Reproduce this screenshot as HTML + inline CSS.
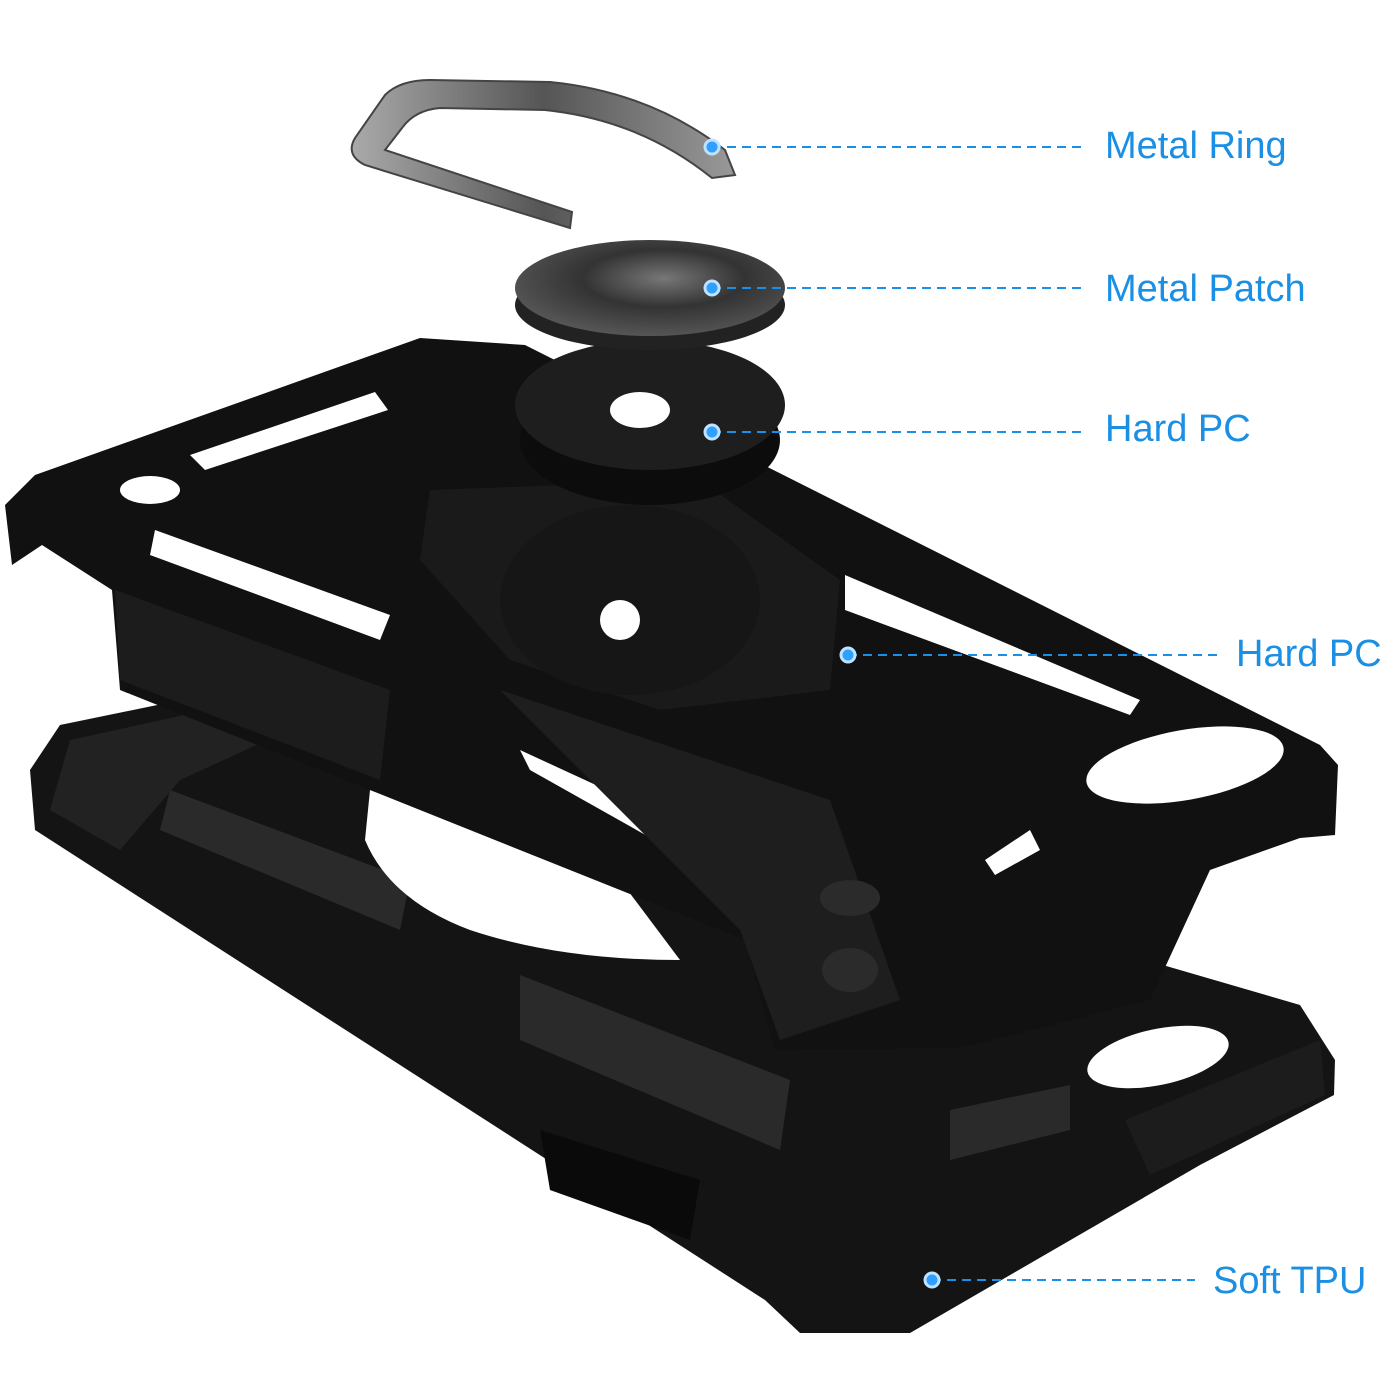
<!DOCTYPE html>
<html><head><meta charset="utf-8"><style>
html,body{margin:0;padding:0;background:#fff;}
svg{display:block;}
text{font-family:"Liberation Sans",sans-serif;font-size:38px;fill:#1a8fe3;}
</style></head><body>
<svg width="1400" height="1400" viewBox="0 0 1400 1400" xmlns="http://www.w3.org/2000/svg">
<defs>
<radialGradient id="pg" cx="0.55" cy="0.4" r="0.6"><stop offset="0" stop-color="#777"/><stop offset="0.5" stop-color="#333"/><stop offset="1" stop-color="#555"/></radialGradient>
<linearGradient id="rg" x1="0" x2="1"><stop offset="0" stop-color="#aaa"/><stop offset="0.5" stop-color="#555"/><stop offset="1" stop-color="#999"/></linearGradient>
</defs>
<!-- Soft TPU -->
<polygon points="60,725 230,690 700,830 1300,1005 1335,1060 1334,1095 1200,1165 910,1333 800,1333 765,1300 35,830 30,770" fill="#141414"/>
<polygon points="70,740 230,705 300,725 180,780 120,850 50,810" fill="#222"/>
<ellipse cx="1158" cy="1057" rx="72" ry="28" transform="rotate(-12 1158 1057)" fill="#fff"/>
<polygon points="540,1130 700,1180 690,1240 550,1190" fill="#0a0a0a"/>
<polygon points="170,790 410,880 400,930 160,830" fill="#2a2a2a"/>
<polygon points="520,975 790,1080 780,1150 520,1040" fill="#2a2a2a"/>
<polygon points="950,1110 1070,1085 1070,1130 950,1160" fill="#2a2a2a"/>
<polygon points="1125,1120 1320,1040 1325,1095 1150,1175" fill="#1c1c1c"/>
<!-- white region under frame -->
<path d="M370,790 L620,880 L680,960 Q560,960 470,930 Q390,900 365,840 Z" fill="#fff"/>
<!-- Hard PC frame -->
<polygon points="5,505 35,475 420,338 525,345 1320,745 1338,765 1335,835 1300,838 1210,870 1150,1000 960,1048 775,1050 745,940 120,690 112,590 42,545 12,565" fill="#111"/>
<polygon points="190,455 375,392 388,410 205,470" fill="#fff"/>
<polygon points="155,530 390,615 380,640 150,555" fill="#fff"/>
<polygon points="845,575 1140,700 1130,715 845,610" fill="#fff"/>
<polygon points="520,750 780,870 770,905 530,770" fill="#fff"/>
<ellipse cx="1185" cy="765" rx="100" ry="35" transform="rotate(-10 1185 765)" fill="#fff"/>
<ellipse cx="150" cy="490" rx="30" ry="14" fill="#fff"/>
<polygon points="985,860 1030,830 1040,850 995,875" fill="#fff"/>
<polygon points="115,590 390,690 380,780 120,680" fill="#1c1c1c"/>
<polygon points="500,690 830,800 900,1000 780,1040 740,930" fill="#1e1e1e"/>
<ellipse cx="850" cy="898" rx="30" ry="18" fill="#2b2b2b"/>
<ellipse cx="850" cy="970" rx="28" ry="22" fill="#2b2b2b"/>
<!-- center oval -->
<polygon points="430,490 700,480 840,580 830,690 660,710 510,660 420,560" fill="#1a1a1a"/>
<ellipse cx="630" cy="600" rx="130" ry="95" fill="#161616"/>
<circle cx="620" cy="620" r="20" fill="#fff"/>
<!-- Hard PC disc -->
<ellipse cx="650" cy="440" rx="130" ry="65" fill="#0c0c0c"/>
<ellipse cx="650" cy="405" rx="135" ry="65" fill="#1e1e1e"/>
<ellipse cx="640" cy="410" rx="30" ry="18" fill="#fff"/>
<!-- Metal patch -->
<ellipse cx="650" cy="305" rx="135" ry="45" fill="#222"/>
<ellipse cx="650" cy="288" rx="135" ry="48" fill="url(#pg)"/>
<!-- Metal ring -->
<path d="M570,228 L365,165 Q345,155 355,138 L385,95 Q400,80 430,80 L550,82 Q650,92 725,150 L735,175 L712,178 Q640,120 545,110 L440,108 Q415,110 402,128 L385,150 L572,212 Z" fill="url(#rg)" stroke="#444" stroke-width="2"/>
<!-- leaders -->
<g stroke="#1a8fe3" stroke-width="2" stroke-dasharray="9,6">
<line x1="712" y1="147" x2="1085" y2="147"/>
<line x1="712" y1="288" x2="1085" y2="288"/>
<line x1="712" y1="432" x2="1085" y2="432"/>
<line x1="848" y1="655" x2="1222" y2="655"/>
<line x1="932" y1="1280" x2="1195" y2="1280"/>
</g>
<g fill="#2fa0ff" stroke="#bfe3ff" stroke-width="3">
<circle cx="712" cy="147" r="7"/><circle cx="712" cy="288" r="7"/><circle cx="712" cy="432" r="7"/><circle cx="848" cy="655" r="7"/><circle cx="932" cy="1280" r="7"/>
</g>
<text x="1105" y="158">Metal Ring</text>
<text x="1105" y="301">Metal Patch</text>
<text x="1105" y="441">Hard PC</text>
<text x="1236" y="666">Hard PC</text>
<text x="1213" y="1293">Soft TPU</text>
</svg>
</body></html>
